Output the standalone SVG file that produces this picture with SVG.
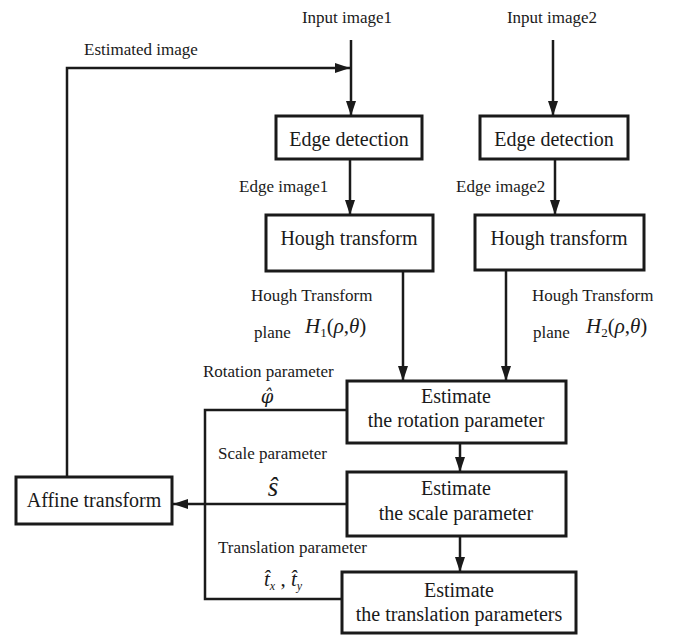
<svg xmlns="http://www.w3.org/2000/svg" width="674" height="638" viewBox="0 0 674 638">
<style>
.box{fill:#fff;stroke:#1a1a1a;stroke-width:3}
.bt{font-family:"Liberation Serif","DejaVu Serif",serif;font-size:20px;fill:#1a1a1a;text-anchor:middle}
.lb{font-family:"Liberation Serif","DejaVu Serif",serif;font-size:17px;fill:#1a1a1a}
.m{font-family:"Liberation Serif","DejaVu Serif",serif;font-size:21px;fill:#1a1a1a}
.i{font-style:italic}
.c{fill:none;stroke:#1a1a1a;stroke-width:2.5}
</style>
<defs>
<marker id="ah" markerUnits="userSpaceOnUse" markerWidth="15" markerHeight="10" refX="15" refY="5" orient="auto" viewBox="0 0 15 10"><path d="M0,0 L15,5 L0,10 z" fill="#1a1a1a"/></marker>
</defs>
<rect width="674" height="638" fill="#fff"/>
<g id="connectors">
<line class="c" x1="351" y1="40" x2="351" y2="116" marker-end="url(#ah)"/>
<polyline class="c" points="67,477 67,68 350,68" marker-end="url(#ah)"/>
<line class="c" x1="553" y1="40" x2="553" y2="116" marker-end="url(#ah)"/>
<line class="c" x1="350" y1="159" x2="350" y2="215" marker-end="url(#ah)"/>
<line class="c" x1="555" y1="159" x2="555" y2="215" marker-end="url(#ah)"/>
<line class="c" x1="403" y1="271" x2="403" y2="381" marker-end="url(#ah)"/>
<line class="c" x1="506" y1="271" x2="506" y2="381" marker-end="url(#ah)"/>
<line class="c" x1="460" y1="443" x2="460" y2="472" marker-end="url(#ah)"/>
<line class="c" x1="460" y1="536" x2="460" y2="572" marker-end="url(#ah)"/>
<line class="c" x1="347" y1="504" x2="173" y2="504" marker-end="url(#ah)"/>
<polyline class="c" points="347,410 205,410 205,599 342,599"/>
</g>
<g id="labels">
<text class="lb" x="347" y="23" text-anchor="middle">Input image1</text>
<text class="lb" x="552" y="23" text-anchor="middle">Input image2</text>
<text class="lb" x="84" y="55">Estimated image</text>
<text class="lb" x="239" y="192">Edge image1</text>
<text class="lb" x="456" y="192">Edge image2</text>
<text class="lb" x="251" y="301">Hough Transform</text>
<text class="lb" x="254" y="338">plane</text>
<text class="m" x="305" y="333"><tspan class="i">H</tspan><tspan font-size="13" dy="4">1</tspan><tspan dy="-4">(</tspan><tspan class="i">ρ</tspan>,<tspan class="i">θ</tspan>)</text>
<text class="lb" x="532" y="301">Hough Transform</text>
<text class="lb" x="533" y="338">plane</text>
<text class="m" x="586" y="333"><tspan class="i">H</tspan><tspan font-size="13" dy="4">2</tspan><tspan dy="-4">(</tspan><tspan class="i">ρ</tspan>,<tspan class="i">θ</tspan>)</text>
<text class="lb" x="203" y="377">Rotation parameter</text>
<text class="i" x="267" y="403" text-anchor="middle" style="font-family:'DejaVu Serif',serif;font-size:18px;fill:#1a1a1a">φ̂</text>
<text class="lb" x="218" y="459">Scale parameter</text>
<text class="m i" x="273" y="496" text-anchor="middle" style="font-size:27px">ŝ</text>
<text class="lb" x="218" y="553">Translation parameter</text>
<text class="m" x="264" y="586"><tspan class="i">t̂</tspan><tspan font-size="12" dy="4" class="i">x</tspan><tspan dy="-4"> , </tspan><tspan class="i">t̂</tspan><tspan font-size="12" dy="4" class="i">y</tspan></text>
</g>
<g id="edge1"><rect class="box" x="276" y="116" width="146" height="43"/><text class="bt" x="349" y="146">Edge detection</text></g>
<g id="edge2"><rect class="box" x="480" y="116" width="148" height="43"/><text class="bt" x="554" y="146">Edge detection</text></g>
<g id="hough1"><rect class="box" x="266" y="215" width="167" height="56"/><text class="bt" x="349" y="245">Hough transform</text></g>
<g id="hough2"><rect class="box" x="475" y="215" width="169" height="55"/><text class="bt" x="559" y="245">Hough transform</text></g>
<g id="rotation"><rect class="box" x="347" y="381" width="219" height="62"/><text class="bt" x="456" y="403">Estimate</text><text class="bt" x="456" y="427">the rotation parameter</text></g>
<g id="scale"><rect class="box" x="347" y="472" width="219" height="64"/><text class="bt" x="456" y="495">Estimate</text><text class="bt" x="456" y="520">the scale parameter</text></g>
<g id="translation"><rect class="box" x="342" y="572" width="234" height="61"/><text class="bt" x="459" y="597">Estimate</text><text class="bt" x="459" y="621">the translation parameters</text></g>
<g id="affine"><rect class="box" x="16" y="477" width="156" height="47"/><text class="bt" x="94" y="507">Affine transform</text></g>
</svg>
